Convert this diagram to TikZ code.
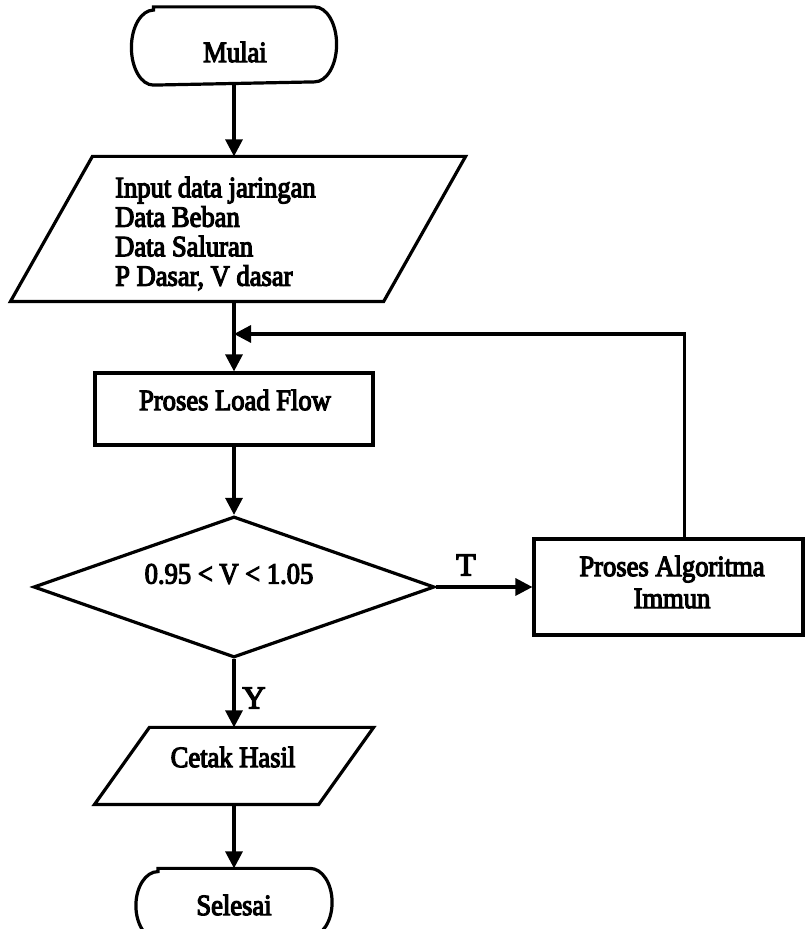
\documentclass[tikz,border=0pt]{standalone}
\usepackage{fontspec}
\setmainfont{Liberation Serif}[FakeStretch=0.9,FakeBold=4]
\newfontfamily\lblfont{Liberation Serif}[FakeBold=4]
\usetikzlibrary{arrows.meta,shapes.geometric}

\tikzset{
  outline/.style={line width=3.2pt, line join=miter},
  flow/.style={line width=3.2pt, -{Triangle[length=17pt,width=17pt]}},
  frame/.style={draw=none, inner sep=0pt, outer sep=1.6pt},
  procbox/.style={draw, outline, inner sep=0pt, outer sep=1.6pt},
  decision/.style={diamond, draw, outline, inner sep=0pt, outer sep=1.6pt},
  txt/.style={inner sep=0pt, font=\fontsize{29.5}{29.5}\selectfont},
  branch/.style={inner sep=0pt, font=\lblfont\fontsize{32}{32}\selectfont}
}

% terminal outline with elliptic ends: node name, end bulge, half height
\newcommand{\terminaloutline}[3]{%
  \draw[outline] ([xshift=#2pt]#1.north west) -- ([xshift=-#2pt]#1.north east)
    arc[start angle=90,end angle=-90,x radius=#2,y radius=#3]
    -- ([xshift=#2pt]#1.south west)
    arc[start angle=270,end angle=90,x radius=#2,y radius=#3] -- cycle;}

% input/output outline: node name, half of the slant
\newcommand{\iooutline}[2]{%
  \draw[outline] ([xshift=#2pt]#1.north west) -- ([xshift=#2pt]#1.north east)
    -- ([xshift=-#2pt]#1.south east) -- ([xshift=-#2pt]#1.south west) -- cycle;}

\begin{document}
\begin{tikzpicture}[x=1pt,y=1pt]
  \useasboundingbox (0,0) rectangle (806,929);
  \fill[white] (0,0) rectangle (806,929);

  % start
  \node[frame, minimum width=202pt, minimum height=75pt] (mulai) at (234,883) {};
  \terminaloutline{mulai}{22}{37.5}
  \node[txt] (mulaitext) at (235,877) {Mulai};

  % input data
  \node[frame, minimum width=370pt, minimum height=142pt] (inp) at (238,700) {};
  \iooutline{inp}{41}
  \node[txt, anchor=west, align=left] (inptext) at (115,695.5)
    {Input data jaringan\\Data Beban\\Data Saluran\\P Dasar, V dasar};

  % load flow
  \node[procbox, minimum width=278pt, minimum height=72pt] (lf) at (234,520) {};
  \node[txt] (lftext) at (235,529) {Proses Load Flow};

  % voltage check
  \node[decision, minimum width=401pt, minimum height=141pt] (dec) at (234,342) {};
  \node[txt] (dectext) at (229,355) {0.95 < V < 1.05};

  % immune algorithm
  \node[procbox, minimum width=269pt, minimum height=96pt] (imm) at (668.5,342) {};
  \node[txt, align=center, font=\fontsize{29.5}{32}\selectfont] (immtext) at (672,347)
    {Proses Algoritma\\Immun};

  % print result
  \node[frame, minimum width=221pt, minimum height=74pt] (cetak) at (234,163) {};
  \iooutline{cetak}{27.5}
  \node[txt] (cetaktext) at (233,172) {Cetak Hasil};

  % end
  \node[frame, minimum width=193pt, minimum height=68pt] (selesai) at (234,25) {};
  \terminaloutline{selesai}{22}{34}
  \node[txt] (selesaitext) at (234,24) {Selesai};

  \coordinate (join) at (234,595);

  % connectors
  \draw[flow] (mulai.south) -- (mulai.south |- inp.north);
  \draw[outline] (lf.north |- inp.south) -- (join);
  \draw[flow] (join) -- (lf.north);
  \draw[flow] (lf.south) -- (dec.north);
  \draw[flow] (dec.east) -- (imm.west);
  \draw[flow] ([xshift=16pt]imm.north) |- (join);
  \draw[flow] (dec.south) -- (cetak.north);
  \draw[flow] (cetak.south) -- (selesai.north);

  % branch labels
  \node[branch] (tlabel) at (466,364) {T};
  \node[branch] (ylabel) at (254,231) {Y};
\end{tikzpicture}
\end{document}
